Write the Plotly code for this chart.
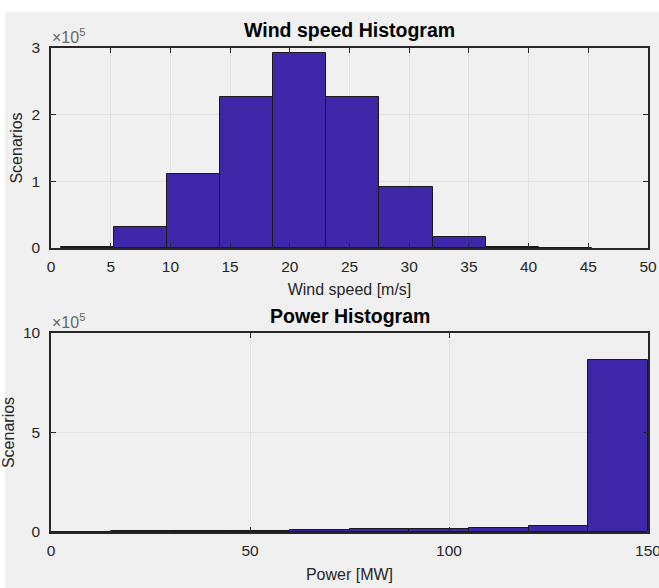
import numpy as np
import plotly.graph_objects as go
from plotly.subplots import make_subplots

# ---- data ----
wind_bin_edges = [0.81, 5.26, 9.71, 14.16, 18.61, 23.06, 27.51, 31.96, 36.41, 40.86, 45.31]
wind_counts = [2000, 31000, 111000, 227000, 293000, 227000, 92000, 16000, 1500, 300]

power_bin_edges = [0, 15, 30, 45, 60, 75, 90, 105, 120, 135, 150]
power_counts = [2000, 3000, 5000, 7000, 10000, 13000, 17000, 22000, 28000, 862000]

wind_xticks = [0, 5, 10, 15, 20, 25, 30, 35, 40, 45, 50]
wind_yticks = [0, 100000, 200000, 300000]
wind_yticklabels = ["0", "1", "2", "3"]
power_xticks = [0, 50, 100, 150]
power_yticks = [0, 500000, 1000000]
power_yticklabels = ["0", "5", "10"]

# ---- style ----
BAR = "rgb(62,38,168)"
AX = "#262626"
GRID = "#e3e3e3"
FONT = "Liberation Sans, Arial, Helvetica, sans-serif"

W, H = 659, 588
ML, MR, MT, MB = 51, 11, 48, 56
PH = H - MT - MB  # 484

top_dom = [(PH - 200) / PH, 1.0]
bot_dom = [0.0, 199 / PH]

fig = make_subplots(rows=2, cols=1)

def centers_widths(edges):
    e = np.asarray(edges, dtype=float)
    return (e[:-1] + e[1:]) / 2, np.diff(e)

wc, ww = centers_widths(wind_bin_edges)
pc, pw = centers_widths(power_bin_edges)

fig.add_trace(go.Bar(x=wc, y=wind_counts, width=ww,
                     marker=dict(color=BAR, line=dict(color="#1a1a1a", width=1)),
                     showlegend=False, hoverinfo="x+y"), row=1, col=1)
fig.add_trace(go.Bar(x=pc, y=power_counts, width=pw,
                     marker=dict(color=BAR, line=dict(color="#1a1a1a", width=1)),
                     showlegend=False, hoverinfo="x+y"), row=2, col=1)

TICKF = dict(family=FONT, size=15.5, color=AX)
LABF = dict(family=FONT, size=16, color=AX)

axis_common = dict(showline=True, linecolor=AX, linewidth=1.5, mirror="allticks",
                   ticks="inside", ticklen=5, tickcolor=AX, tickwidth=1,
                   showgrid=True, gridcolor=GRID, gridwidth=1, zeroline=False,
                   tickfont=TICKF, ticklabeloverflow="allow")

fig.update_xaxes(axis_common)
fig.update_yaxes(axis_common)

fig.update_xaxes(range=[0, 50], tickmode="array", tickvals=wind_xticks,
                 domain=[0, 1], ticklabelstandoff=4,
                 title=dict(text="Wind speed [m/s]", font=LABF, standoff=9),
                 row=1, col=1)
fig.update_yaxes(range=[0, 300000], tickmode="array", tickvals=wind_yticks,
                 ticktext=wind_yticklabels, domain=top_dom, ticklabelstandoff=6,
                 title=dict(text="Scenarios", font=LABF, standoff=5),
                 row=1, col=1)
fig.update_xaxes(range=[0, 150], tickmode="array", tickvals=power_xticks,
                 domain=[0, 1], ticklabelstandoff=4,
                 title=dict(text="Power [MW]", font=LABF, standoff=10),
                 row=2, col=1)
fig.update_yaxes(range=[0, 1000000], tickmode="array", tickvals=power_yticks,
                 ticktext=power_yticklabels, domain=bot_dom, ticklabelstandoff=6,
                 title=dict(text="Scenarios", font=LABF, standoff=5),
                 row=2, col=1)

TITLEF = dict(family=FONT, size=19.5, color="#000000")
EXPF = dict(family=FONT, size=16, color="#666666")
annots = [
    dict(text="<b>Wind speed Histogram</b>", x=0.5, y=top_dom[1], xref="paper", yref="paper",
         xanchor="center", yanchor="bottom", yshift=5, showarrow=False, font=TITLEF),
    dict(text="<b>Power Histogram</b>", x=0.5, y=bot_dom[1], xref="paper", yref="paper",
         xanchor="center", yanchor="bottom", yshift=4, showarrow=False, font=TITLEF),
    dict(text="×10<sup>5</sup>", x=0, y=top_dom[1], xref="paper", yref="paper",
         xanchor="left", yanchor="bottom", xshift=-1, yshift=0, showarrow=False, font=EXPF),
    dict(text="×10<sup>5</sup>", x=0, y=bot_dom[1], xref="paper", yref="paper",
         xanchor="left", yanchor="bottom", xshift=-1, yshift=0, showarrow=False, font=EXPF),
]

shapes = [dict(type="rect", xref="paper", yref="paper",
               x0=(5 - ML) / (W - ML - MR), x1=1.1,
               y0=-0.3, y1=(PH + MT - 12) / PH,
               fillcolor="#f0f0f0", line=dict(width=0), layer="below")]

fig.update_layout(width=W, height=H,
                  margin=dict(l=ML, r=MR, t=MT, b=MB, autoexpand=False),
                  paper_bgcolor="white", plot_bgcolor="white",
                  bargap=0, annotations=annots, shapes=shapes,
                  font=dict(family=FONT, color=AX))

fig.write_html("out.html", config={"displayModeBar": False},
               post_script="document.body.style.margin='0px';document.body.style.overflow='hidden';")
